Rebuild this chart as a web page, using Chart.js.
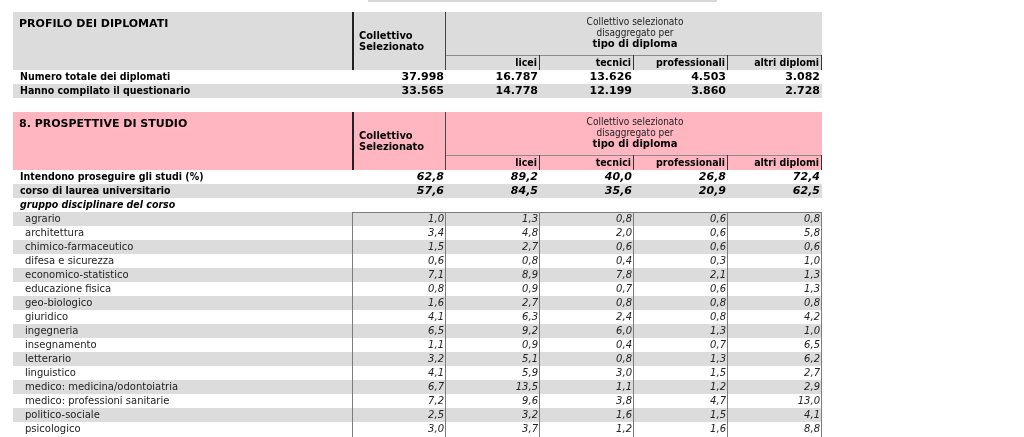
<!DOCTYPE html>
<html>
<head>
<meta charset="utf-8">
<script src="https://cdn.jsdelivr.net/npm/chart.js@4/dist/chart.umd.min.js"></script>
<style>
  html, body { margin: 0; padding: 0; background: #fff; }
  .box { position: absolute; left: 0; width: 1024px; }
</style>
</head>
<body>
<div class="box" style="top:0;height:98px"><canvas id="profilo"></canvas></div>
<div class="box" style="top:98px;height:339px"><canvas id="prospettive"></canvas></div>
<script>
// column headings
const colonne = ['licei', 'tecnici', 'professionali', 'altri diplomi'];

// PROFILO DEI DIPLOMATI
const profiloRighe = ['Numero totale dei diplomati', 'Hanno compilato il questionario'];
const profiloCollettivo = [37998, 33565];
const profiloLicei = [16787, 14778];
const profiloTecnici = [13626, 12199];
const profiloProfessionali = [4503, 3860];
const profiloAltri = [3082, 2728];

// 8. PROSPETTIVE DI STUDIO (null = sub-title row)
const prospRighe = [
  'Intendono proseguire gli studi (%)', 'corso di laurea universitario', 'gruppo disciplinare del corso',
  'agrario', 'architettura', 'chimico-farmaceutico', 'difesa e sicurezza', 'economico-statistico',
  'educazione fisica', 'geo-biologico', 'giuridico', 'ingegneria', 'insegnamento', 'letterario',
  'linguistico', 'medico: medicina/odontoiatria', 'medico: professioni sanitarie', 'politico-sociale',
  'psicologico'
];
const prospCollettivo = [62.8, 57.6, null, 1.0, 3.4, 1.5, 0.6, 7.1, 0.8, 1.6, 4.1, 6.5, 1.1, 3.2, 4.1, 6.7, 7.2, 2.5, 3.0];
const prospLicei = [89.2, 84.5, null, 1.3, 4.8, 2.7, 0.8, 8.9, 0.9, 2.7, 6.3, 9.2, 0.9, 5.1, 5.9, 13.5, 9.6, 3.2, 3.7];
const prospTecnici = [40.0, 35.6, null, 0.8, 2.0, 0.6, 0.4, 7.8, 0.7, 0.8, 2.4, 6.0, 0.4, 0.8, 3.0, 1.1, 3.8, 1.6, 1.2];
const prospProfessionali = [26.8, 20.9, null, 0.6, 0.6, 0.6, 0.3, 2.1, 0.6, 0.8, 0.8, 1.3, 0.7, 1.3, 1.5, 1.2, 4.7, 1.5, 1.6];
const prospAltri = [72.4, 62.5, null, 0.8, 5.8, 0.6, 1.0, 1.3, 1.3, 0.8, 4.2, 1.0, 6.5, 6.2, 2.7, 2.9, 13.0, 4.1, 8.8];

const FONT = '"DejaVu Sans", Verdana, sans-serif';
const COND = '"DejaVu Sans Condensed", "DejaVu Sans", sans-serif';
const GRAY = '#dcdcdc';
const PINK = '#ffb6c1';
// column edges on the x scale (label column, then five value columns)
const edges = [13, 353, 446, 540, 634, 728, 822];
const HEADER_H = 58;

const fmtInt = n => String(n).replace(/\B(?=(\d{3})+(?!\d))/g, '.');
const fmtDec = n => n.toFixed(1).replace('.', ',');

function txt(ctx, s, x, y, font, align, color) {
  ctx.font = font;
  ctx.textAlign = align || 'left';
  ctx.textBaseline = 'middle';
  ctx.fillStyle = color || '#000';
  ctx.fillText(s, x, y);
}

function drawHeader(ctx, xs, top, bg, title) {
  const L = xs(edges[0]), R = xs(edges[6]);
  const c1 = xs(edges[1]), c2 = xs(edges[2]);
  ctx.fillStyle = bg;
  ctx.fillRect(L, top, R - L, HEADER_H);
  txt(ctx, title, L + 6, top + 12, 'bold 11px ' + FONT);
  ctx.fillStyle = '#222';
  ctx.fillRect(c1 - 1, top, 2, HEADER_H);
  ctx.fillStyle = '#444';
  ctx.fillRect(c2 - 1, top, 1, HEADER_H);
  txt(ctx, 'Collettivo', c1 + 6, top + 24, 'bold 11px ' + COND);
  txt(ctx, 'Selezionato', c1 + 6, top + 35, 'bold 11px ' + COND);
  const mid = (c2 + R) / 2 + 1;
  txt(ctx, 'Collettivo selezionato', mid, top + 10, '10px ' + COND, 'center', '#222');
  txt(ctx, 'disaggregato per', mid, top + 21, '10px ' + COND, 'center', '#222');
  txt(ctx, 'tipo di diploma', mid, top + 32, 'bold 10px ' + FONT, 'center');
  ctx.fillStyle = '#8a8a8a';
  ctx.fillRect(c2, top + 43, R - c2, 1);
  ctx.fillStyle = '#333';
  for (let i = 3; i <= 6; i++) ctx.fillRect(xs(edges[i]) - 1, top + 43, 1, HEADER_H - 43);
  colonne.forEach((c, i) => txt(ctx, c, xs(edges[i + 3]) - 3, top + 51, 'bold 10.5px ' + COND, 'right'));
}

function tablePlugin(opts) {
  return {
    id: 'tabella',
    beforeDraw(chart) {
      const ctx = chart.ctx;
      const x = chart.scales.x, y = chart.scales.y;
      const xs = v => Math.round(x.getPixelForValue(v));
      const n = opts.righe.length;
      const band = (y.bottom - y.top) / n;
      ctx.save();
      if (opts.strip) {
        ctx.fillStyle = '#d6d6d6';
        ctx.fillRect(xs(368), 0, xs(717) - xs(368), 2);
      }
      drawHeader(ctx, xs, y.top - HEADER_H, opts.bg, opts.title);
      const sub = opts.cols[0].indexOf(null);
      // row stripes
      opts.righe.forEach((r, i) => {
        const yc = y.getPixelForValue(i);
        ctx.fillStyle = i % 2 ? GRAY : '#fff';
        ctx.fillRect(xs(edges[0]), yc - band / 2, xs(edges[6]) - xs(edges[0]), band);
      });
      // grid of the detail rows
      if (sub >= 0) {
        const gTop = Math.round(y.getPixelForValue(sub + 1) - band / 2);
        ctx.fillStyle = '#7c7c7c';
        ctx.fillRect(xs(edges[1]), gTop, xs(edges[6]) - xs(edges[1]), 1);
        for (let i = 1; i <= 6; i++) ctx.fillRect(xs(edges[i]) - 1, gTop, 1, y.bottom - gTop + 2);
      }
      // texts
      opts.righe.forEach((r, i) => {
        const yc = y.getPixelForValue(i) + 0.5;
        const detail = sub >= 0 && i > sub;
        let lf, vf, col = '#000';
        if (sub < 0) { lf = 'bold 10.5px ' + COND; vf = 'bold 11px ' + FONT; }
        else if (i < sub) { lf = 'bold 10.5px ' + COND; vf = 'italic bold 11px ' + FONT; }
        else if (i === sub) { lf = 'italic bold 10.5px ' + COND; }
        else { lf = '10px ' + FONT; vf = 'italic 10px ' + FONT; col = '#222'; }
        txt(ctx, r, xs(edges[0]) + (detail ? 12 : 7), yc, lf, 'left', col);
        opts.cols.forEach((arr, c) => {
          if (arr[i] == null) return;
          txt(ctx, opts.fmt(arr[i]), xs(edges[c + 2]) - 2, yc, vf, 'right', col);
        });
      });
      ctx.restore();
    }
  };
}

function makeTable(id, righe, cols, fmt, bg, title, padTop, padBottom, strip) {
  return new Chart(document.getElementById(id), {
    type: 'bar',
    data: { labels: righe, datasets: [] },
    options: {
      indexAxis: 'y',
      responsive: true,
      maintainAspectRatio: false,
      animation: false,
      devicePixelRatio: 1,
      layout: { padding: { top: padTop, bottom: padBottom, left: 0, right: 0 } },
      plugins: { legend: { display: false }, tooltip: { enabled: false } },
      scales: {
        x: { type: 'linear', min: 0, max: 1024, offset: false, display: false },
        y: { type: 'category', offset: true, display: false }
      }
    },
    plugins: [tablePlugin({ righe, cols, fmt, bg, title, strip })]
  });
}

makeTable('profilo', profiloRighe,
  [profiloCollettivo, profiloLicei, profiloTecnici, profiloProfessionali, profiloAltri],
  fmtInt, GRAY, 'PROFILO DEI DIPLOMATI', 70, 0, true);

makeTable('prospettive', prospRighe,
  [prospCollettivo, prospLicei, prospTecnici, prospProfessionali, prospAltri],
  fmtDec, PINK, '8. PROSPETTIVE DI STUDIO', 72, 1, false);
</script>
</body>
</html>
